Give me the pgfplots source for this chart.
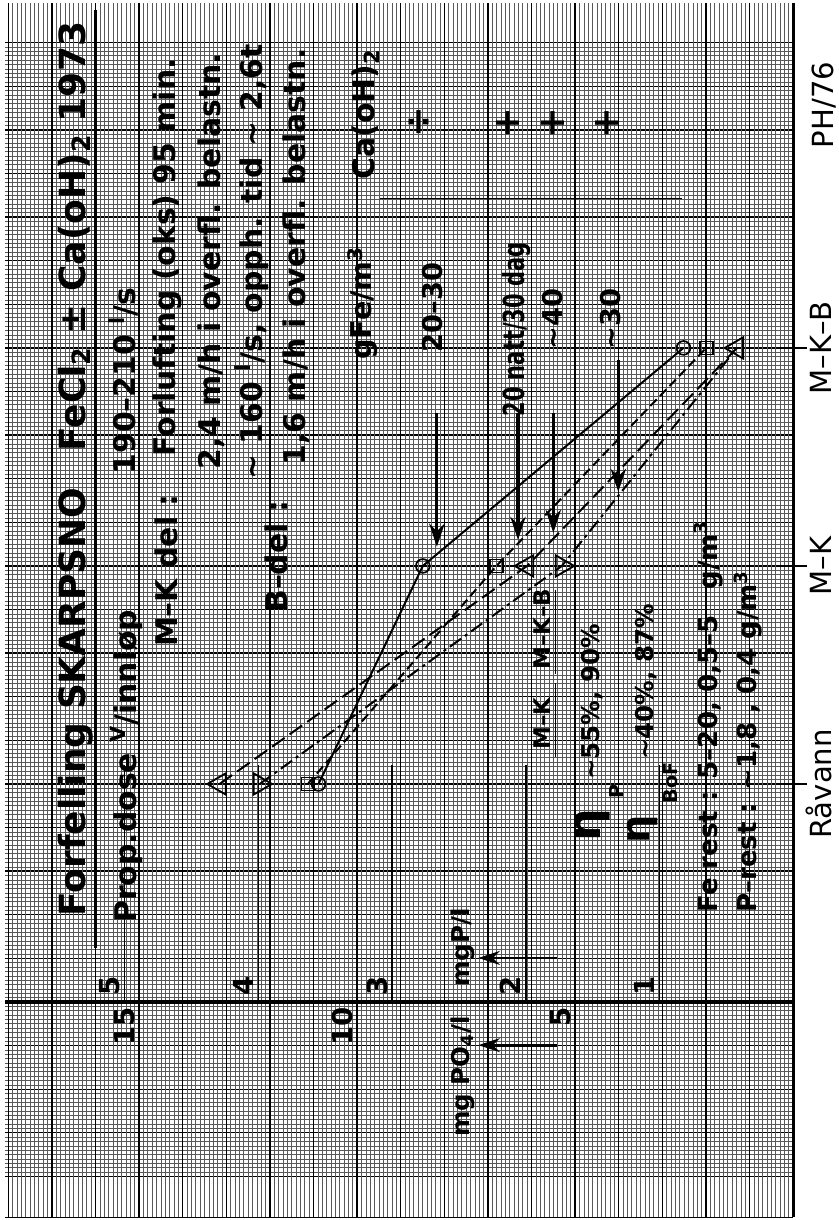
\documentclass[border=0pt]{standalone}
\usepackage{graphicx}
\usepackage{fontspec}
\setmainfont{DejaVu Sans}
\usepackage{pgfplots}
\pgfplotsset{compat=1.18}
\usetikzlibrary{arrows.meta}

\newcommand{\fs}[1]{\fontsize{#1}{#1}\selectfont}
\newcommand{\tl}{\textasciitilde}

\begin{document}
\rotatebox{90}{%
\begin{tikzpicture}[font=\fs{19.5}\bfseries]
\begin{axis}[
    x=1cm, y=3.066cm,               % 1 mgP/l = 3.066 mgPO4/l = 3.066 cm on the paper
    xmin=-4.93, xmax=22.91,
    ymin=0, ymax=5.894,
    axis x line*=bottom, axis y line*=left,
    x axis line style={line width=2pt},
    y axis line style={line width=0.5pt},
    xtick={-4,-3,...,22}, ytick distance=0.326158,
    minor x tick num=9, minor y tick num=9,
    grid=both,
    major grid style={black, line width=0.9pt},
    minor grid style={black!65, line width=0.4pt},
    xticklabels={}, yticklabels={},
    major tick length=0pt, minor tick length=0pt,
    extra x ticks={5,10,15},
    extra x tick labels={Råvann, M–K, M–K–B},
    extra x tick style={grid=none, tick align=center, major tick length=0.64cm,
        tick style={black, line width=1pt},
        xticklabel style={anchor=base, yshift=-0.55cm, font=\mdseries\fs{19}}},
    clip=false,
]
% circles, solid line
\addplot[black, line width=1.3pt, mark=o, mark size=4.5pt,
    mark options={solid, fill=white, line width=1.1pt}]
    coordinates {(5,3.55) (10,2.77) (15,0.82)};
% squares, dashed line
\addplot[black, line width=1.3pt, dash pattern=on 6pt off 3pt, mark=square, mark size=4.2pt,
    mark options={solid, fill=white, line width=1.1pt}]
    coordinates {(5,3.63) (10,2.22) (15,0.65)};
% triangles, long dashes
\addplot[black, line width=1.3pt, dash pattern=on 10pt off 4pt, mark=triangle, mark size=8pt,
    mark options={solid, line width=1.2pt}]
    coordinates {(5,4.29) (10,1.99) (15,0.42)};
% triangles pointing down, dash dot
\addplot[black, line width=1.3pt, dash pattern=on 9pt off 3pt on 2pt off 3pt, mark=triangle, mark size=8pt,
    mark options={solid, rotate=180, line width=1.2pt}, mark indices={1,2}]
    coordinates {(5,3.99) (10,1.73) (15,0.42)};

% value axis with the two scales
\draw[line width=2pt] (axis cs:0,0) -- (axis cs:0,5.894);
\pgfplotsinvokeforeach{1,2,3,4,5}{
    \draw[line width=1pt] (axis cs:0,#1) -- ++(0.5cm,0);
    \node[anchor=base west, inner sep=0pt, xshift=0.14cm, yshift=0.11cm, font=\fs{18}\bfseries] at (axis cs:0,#1) {#1};
}
\draw[line width=1pt] (axis cs:0,1.6308) -- ++(-0.3cm,0);
\draw[line width=1pt] (axis cs:0,3.2616) -- ++(-0.3cm,0);
\draw[line width=1pt] (axis cs:0,4.8924) -- ++(-0.3cm,0);
\node[anchor=base east, inner sep=0pt, xshift=-0.12cm, yshift=0.11cm, font=\fs{18}\bfseries] at (axis cs:0,1.6308) {5};
\node[anchor=base east, inner sep=0pt, xshift=-0.12cm, yshift=0.11cm, font=\fs{18}\bfseries] at (axis cs:0,3.2616) {10};
\node[anchor=base east, inner sep=0pt, xshift=-0.12cm, yshift=0.11cm, font=\fs{18}\bfseries] at (axis cs:0,4.8924) {15};

\coordinate (O) at (axis cs:0,0);
\end{axis}

\begin{scope}[shift={(O)}, every node/.style={inner sep=0pt}]
% title block
\node[anchor=base west, font=\fs{23.5}\bfseries] at (1.95,16.24)
    {Forfelling SKARPSNO\quad FeCl\textsubscript{2} ± Ca(oH)\textsubscript{2} 1973};
\draw[line width=2pt] (1.24,16.01) -- (22.75,16.01);
\node[anchor=base west] at (1.81,15.05) {Prop.dose \textsuperscript{V}/innløp};
\node[anchor=base west] at (12.09,15.08) {190–210 \textsuperscript{l}/s};
\node[anchor=base west] at (8.14,14.13) {M–K del :};
\node[anchor=base west] at (12.5,14.17) {Forlufting (oks) 95 min.};
\node[anchor=base west] at (12.2,13.14) {2,4 m/h i overfl. belastn.};
\node[anchor=base west] at (8.92,11.6) {B–del :};
\node[anchor=base west] at (11.97,12.18) {\tl\ 160 \textsuperscript{l}/s, opph. tid \tl\ 2,6t};
\node[anchor=base west] at (12.3,11.19) {1,6 m/h i overfl. belastn.};

% dosage table
\node[anchor=base west, font=\fs{18.7}\bfseries] at (14.72,9.66) {gFe/m\textsuperscript{3}};
\node[anchor=base west] at (18.85,9.6) {Ca(oH)\textsubscript{2}};
\draw[line width=0.7pt] (18.42,9.47) -- (18.42,2.55);
\node[anchor=base west, font=\fs{17.8}\bfseries] at (14.89,8.05) {20–30};
\node[anchor=base west, font=\fs{19}\bfseries] at (13.42,6.15) {\scalebox{0.72}[1]{20 natt/30 dag}};
\node[anchor=base west, font=\fs{17.8}\bfseries] at (14.95,5.28) {\tl 40};
\node[anchor=base west, font=\fs{17.8}\bfseries] at (14.95,3.97) {\tl 30};
\node[font=\fs{24}\bfseries] at (20.18,8.56) {÷};
\node[font=\fs{24}\bfseries] at (20.16,6.54) {+};
\node[font=\fs{24}\bfseries] at (20.16,5.50) {+};
\node[font=\fs{24}\bfseries] at (20.16,4.27) {+};
\draw[-{Stealth[length=15pt,width=10pt]}, line width=2pt] (13.51,8.17) -- (10.44,8.17);
\draw[-{Stealth[length=15pt,width=10pt]}, line width=2pt] (13.51,6.31) -- (10.60,6.31);
\draw[-{Stealth[length=15pt,width=10pt]}, line width=2pt] (13.51,5.50) -- (10.76,5.50);
\draw[-{Stealth[length=15pt,width=10pt]}, line width=2pt] (14.72,4.01) -- (11.70,4.01);

% efficiencies and residues
\node[anchor=base west, font=\fs{15}\bfseries] at (5.78,5.57) {M–K};
\node[anchor=base west, font=\fs{15}\bfseries] at (7.61,5.57) {M–K–B};
\draw[line width=1pt] (5.62,5.45) -- (7.32,5.45);
\draw[line width=1pt] (7.52,5.45) -- (9.45,5.45);
\node[anchor=base west, font=\fs{30}\bfseries] at (3.68,4.42) {η};
\node[anchor=base west, font=\fs{12.5}\bfseries] at (4.67,3.90) {P};
\node[anchor=base west, font=\fs{16}\bfseries] at (5.09,4.43) {\tl 55\%, 90\%};
\node[anchor=base west, font=\fs{26}\bfseries] at (3.62,3.30) {η};
\node[anchor=base west, font=\fs{12.5}\bfseries] at (4.55,2.66) {BoF};
\node[anchor=base west, font=\fs{16}\bfseries] at (5.55,3.21) {\tl 40\%, 87\%};
\node[anchor=base west, font=\fs{17}\bfseries] at (2.04,1.74) {Fe rest : 5–20, 0,5–5\quad g/m\textsuperscript{3}};
\node[anchor=base west, font=\fs{17}\bfseries] at (2.04,0.83) {P–rest : \tl 1,8 , 0,4 g/m\textsuperscript{3}};

% axis labels
\node[anchor=base west, font=\fs{16}\bfseries] at (0.34,7.43) {mgP/l};
\draw[-{Stealth[length=14pt,width=9pt]}, line width=1.8pt] (1.01,5.41) -- (1.01,7.22);
\node[anchor=base west, font=\fs{16}\bfseries] at (-3.10,7.43) {mg PO\textsubscript{4}/l};
\draw[-{Stealth[length=14pt,width=9pt]}, line width=1.8pt] (-0.99,5.41) -- (-0.99,7.22);
\node[anchor=base, font=\mdseries\fs{19}] at (20.57,-0.92) {PH/76};

\pgfresetboundingbox
\path[use as bounding box] (-5.0,-1.03) rectangle (22.98,18.19);
\end{scope}
\end{tikzpicture}}
\end{document}
